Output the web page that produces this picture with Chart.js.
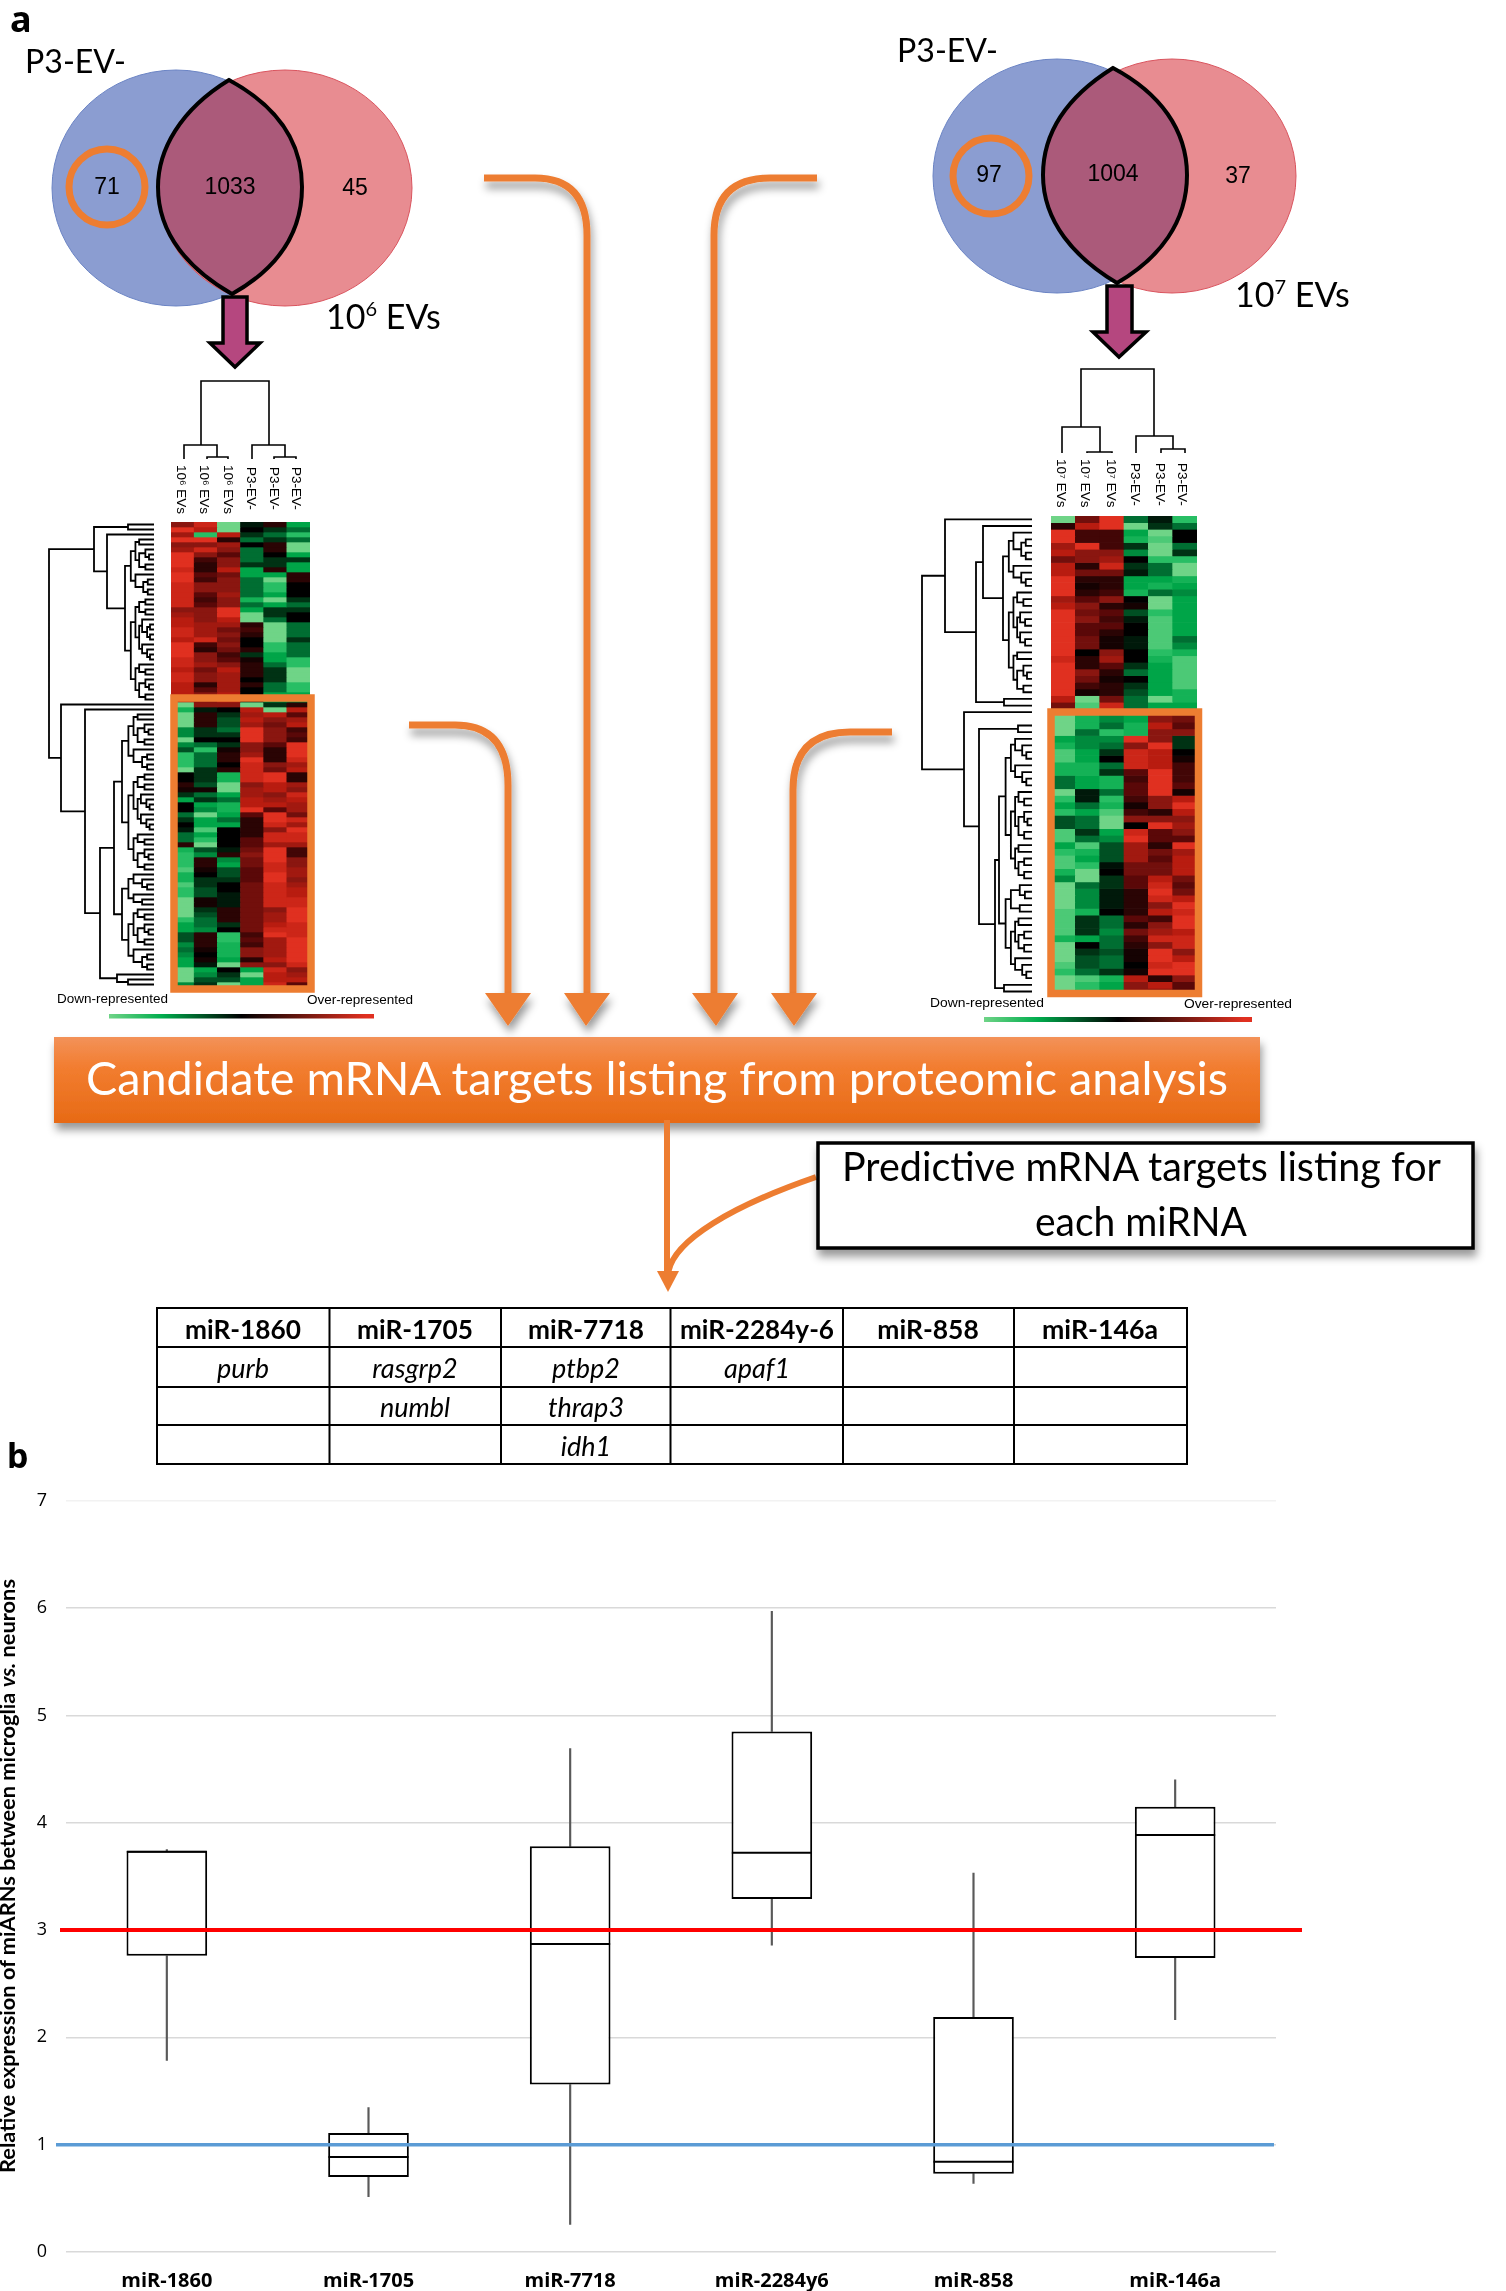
<!DOCTYPE html>
<html>
<head>
<meta charset="utf-8">
<title>miRNA targets and relative expression</title>
<script src="https://cdn.jsdelivr.net/npm/chart.js@4"></script>
<style>
  html, body { margin: 0; padding: 0; background: #fff; }
  #page { position: relative; width: 1506px; height: 2291px; overflow: hidden; }
  canvas { position: absolute; }
  #overlay { position: absolute; left: 0; top: 0; }
  #heatLeft { left: 171px; top: 522px; }
  #heatRight { left: 1051px; top: 516px; }
  #boxChart { left: 0; top: 1471px; }
</style>
</head>
<body>
<div id="page">
  <canvas id="boxChart" width="1506" height="820"></canvas>
  <canvas id="heatLeft" width="139" height="465"></canvas>
  <canvas id="heatRight" width="146" height="479"></canvas>

  <svg id="overlay" width="1506" height="2291" xmlns="http://www.w3.org/2000/svg">
    <defs>
      <filter id="sh" x="-10%" y="-30%" width="120%" height="170%">
        <feDropShadow dx="2" dy="7" stdDeviation="4" flood-color="#000" flood-opacity="0.4"/>
      </filter>
      <linearGradient id="bannerFill" x1="0" y1="0" x2="0" y2="1">
        <stop offset="0" stop-color="#f39259"/>
        <stop offset="0.35" stop-color="#f27d30"/>
        <stop offset="1" stop-color="#e76a15"/>
      </linearGradient>
      <linearGradient id="heatBar" x1="0" y1="0" x2="1" y2="0">
        <stop offset="0" stop-color="#6fd487"/>
        <stop offset="0.2" stop-color="#00ad4d"/>
        <stop offset="0.5" stop-color="#000"/>
        <stop offset="0.97" stop-color="#e03020"/>
      </linearGradient>
    </defs>

    <!-- panel letters -->
    <text x="10" y="32" font-family="Noto Sans" font-weight="700" font-size="36">a</text>
    <text x="7" y="1468" font-family="Noto Sans" font-weight="700" font-size="34">b</text>

    <!-- left venn -->
    <g>
      <ellipse cx="176" cy="188" rx="124" ry="118" fill="#8b9dd1" stroke="#6b84c4"/>
      <ellipse cx="285" cy="188" rx="127" ry="118" fill="#e88c91" stroke="#d9545e"/>
      <path d="M229,80 C180,110 158,150 158,187 C158,235 190,270 232,294 C275,270 302,235 302,187 C302,140 275,105 229,80 Z" fill="#ab5a7a" stroke="#000" stroke-width="4"/>
      <circle cx="107" cy="187" r="38" fill="none" stroke="#ed7d31" stroke-width="7"/>
      <g font-family="Liberation Sans" font-size="23" text-anchor="middle">
        <text x="107" y="194">71</text>
        <text x="230" y="194">1033</text>
        <text x="355" y="195">45</text>
      </g>
      <text x="25" y="73" font-family="Lato" font-size="33" textLength="101" lengthAdjust="spacingAndGlyphs">P3-EV-</text>
      <text x="326" y="329" font-family="Lato" font-size="34">10<tspan font-size="20" dy="-13">6</tspan><tspan dy="13"> EVs</tspan></text>
      <path d="M223,297 H247 V343 H260 L235,367 L210,343 H223 Z" fill="#b5477f" stroke="#000" stroke-width="3.5"/>
    </g>

    <!-- right venn -->
    <g>
      <ellipse cx="1057" cy="176" rx="124" ry="117" fill="#8b9dd1" stroke="#6b84c4"/>
      <ellipse cx="1172" cy="176" rx="124" ry="117" fill="#e88c91" stroke="#d9545e"/>
      <path d="M1113,68 C1065,98 1043,135 1043,175 C1043,222 1075,258 1117,283 C1160,258 1187,222 1187,175 C1187,130 1160,93 1113,68 Z" fill="#ab5a7a" stroke="#000" stroke-width="4"/>
      <circle cx="991" cy="176" r="38" fill="none" stroke="#ed7d31" stroke-width="7"/>
      <g font-family="Liberation Sans" font-size="23" text-anchor="middle">
        <text x="989" y="182">97</text>
        <text x="1113" y="181">1004</text>
        <text x="1238" y="183">37</text>
      </g>
      <text x="897" y="62" font-family="Lato" font-size="33" textLength="101" lengthAdjust="spacingAndGlyphs">P3-EV-</text>
      <text x="1235" y="307" font-family="Lato" font-size="34">10<tspan font-size="20" dy="-13">7</tspan><tspan dy="13"> EVs</tspan></text>
      <path d="M1107,286 H1132 V332 H1146 L1119,357 L1093,332 H1107 Z" fill="#b5477f" stroke="#000" stroke-width="3.5"/>
    </g>

    <!-- column dendrograms -->
    <g fill="none" stroke="#000" stroke-width="1.6">
      <path d="M201,445 V381 H269 V445"/>
      <path d="M184,459 V445 H217 V457 M207,459 V457 H228 V459"/>
      <path d="M252,459 V445 H285 V457 M274,459 V457 H296 V459"/>
      <path d="M1081,427 V369 H1154 V436"/>
      <path d="M1062,453 V427 H1100 V452 M1087,453 V452 H1112 V453"/>
      <path d="M1136,453 V436 H1173 V449 M1161,453 V449 H1185 V453"/>
    </g>
    <g id="colLabels" font-family="Liberation Sans" font-size="13.5"></g>

    <!-- row dendrograms, filled in by the script -->
    <path id="dendLeft" fill="none" stroke="#000" stroke-width="1.8"/>
    <path id="dendRight" fill="none" stroke="#000" stroke-width="1.8"/>

    <!-- selected clusters -->
    <rect x="174" y="698" width="137" height="291" fill="none" stroke="#ed7d31" stroke-width="7.5"/>
    <rect x="1051" y="712" width="147.5" height="281.5" fill="none" stroke="#ed7d31" stroke-width="7.5"/>

    <!-- colour keys -->
    <g font-family="Liberation Sans" font-size="12.5">
      <text x="57" y="1003" textLength="111" lengthAdjust="spacingAndGlyphs">Down-represented</text>
      <text x="307" y="1004" textLength="106" lengthAdjust="spacingAndGlyphs">Over-represented</text>
      <text x="930" y="1007" textLength="114" lengthAdjust="spacingAndGlyphs">Down-represented</text>
      <text x="1184" y="1008" textLength="108" lengthAdjust="spacingAndGlyphs">Over-represented</text>
    </g>
    <rect x="109" y="1014" width="265" height="4.5" fill="url(#heatBar)"/>
    <rect x="984" y="1017" width="268" height="5" fill="url(#heatBar)"/>

    <!-- orange routing arrows -->
    <g fill="none" stroke="#ed7d31" stroke-width="7" filter="url(#sh)">
      <path d="M484,178 H535 Q587,178 587,235 V995"/>
      <path d="M817,178 H770 Q714,178 714,235 V995"/>
      <path d="M409,725 H455 Q508,725 508,785 V995"/>
      <path d="M892,732 H850 Q793,732 793,790 V995"/>
    </g>
    <g fill="#ed7d31" filter="url(#sh)">
      <path d="M564,993 H610 L586,1026 Z"/>
      <path d="M692,993 H738 L716,1026 Z"/>
      <path d="M485,993 H531 L508,1026 Z"/>
      <path d="M771,993 H817 L794,1026 Z"/>
    </g>

    <!-- candidate banner -->
    <rect x="54" y="1037" width="1206" height="86" fill="url(#bannerFill)" filter="url(#sh)"/>
    <text x="86" y="1095" font-family="Lato" font-size="46" fill="#fff" textLength="1142" lengthAdjust="spacingAndGlyphs">Candidate mRNA targets listing from proteomic analysis</text>

    <!-- arrows to the table -->
    <path d="M667,1120 V1274" fill="none" stroke="#ed7d31" stroke-width="6"/>
    <path d="M816,1177 C735,1205 672,1240 668,1274" fill="none" stroke="#ed7d31" stroke-width="6"/>
    <path d="M657,1271 H679 L668,1292 Z" fill="#ed7d31"/>

    <!-- predictive box -->
    <rect x="818" y="1143" width="655" height="105" fill="#fff" stroke="#000" stroke-width="3.5" filter="url(#sh)"/>
    <g font-family="Lato" font-size="40">
      <text x="842" y="1181" textLength="599" lengthAdjust="spacingAndGlyphs">Predictive mRNA targets listing for</text>
      <text x="1035" y="1236" textLength="212" lengthAdjust="spacingAndGlyphs">each miRNA</text>
    </g>

    <!-- target table -->
    <g fill="none" stroke="#000" stroke-width="2">
      <rect x="157" y="1308" width="1030" height="156"/>
      <path d="M157,1347 H1187 M157,1387 H1187 M157,1425 H1187"/>
      <path d="M329.5,1308 V1464 M501,1308 V1464 M670.5,1308 V1464 M843,1308 V1464 M1014,1308 V1464"/>
    </g>
    <g id="tableText" font-family="Lato" font-size="27" text-anchor="middle"></g>

    <!-- y axis title -->
    <text transform="translate(15,2173) rotate(-90)" font-family="Lato" font-weight="700" font-size="21" textLength="594" lengthAdjust="spacingAndGlyphs">Relative expression of miARNs between microglia <tspan font-style="italic">vs.</tspan> neurons</text>
  </svg>
</div>

<script>
// panel b
var categories = ['miR-1860', 'miR-1705', 'miR-7718', 'miR-2284y6', 'miR-858', 'miR-146a'];
var whiskerLow = [1.785, 0.515, 0.257, 2.86, 0.64, 2.165];
var boxQ1 = [2.76, 0.70, 1.56, 3.29, 0.73, 2.74];
var boxMedian = [3.73, 0.885, 2.87, 3.72, 0.84, 3.885];
var boxQ3 = [3.74, 1.11, 3.78, 4.85, 2.19, 4.15];
var whiskerHigh = [3.75, 1.345, 4.69, 5.97, 3.53, 4.40];
var yTicks = [0, 1, 2, 3, 4, 5, 6, 7];
var thresholdValues = [3, 1];

// table in panel a
var tableHeaders = ['miR-1860', 'miR-1705', 'miR-7718', 'miR-2284y-6', 'miR-858', 'miR-146a'];
var tableRows = [
    ['purb', 'rasgrp2', 'ptbp2', 'apaf1', '', ''],
    ['', 'numbl', 'thrap3', '', '', ''],
    ['', '', 'idh1', '', '', '']
];

// heatmaps: one row per protein, columns are the samples (-5 light green .. 0 black .. 5 red)
var heatColumnsLeft = ['10⁶ EVs', '10⁶ EVs', '10⁶ EVs', 'P3-EV-', 'P3-EV-', 'P3-EV-'];
var heatColumnsRight = ['10⁷ EVs', '10⁷ EVs', '10⁷ EVs', 'P3-EV-', 'P3-EV-', 'P3-EV-'];
var heatRowsLeft = [
    [3,4.5,-5,-0.5,1,-3],[5,4,-5,0,-1,-2],[3.5,-4,4,-1,-2,-4],[5,5,1,-2,-1,-2],[3,3,3.5,0,1,-5],
    [3.5,4.5,3,-2,1,-5],[5,3,2,-2,0,-3],[5,1.5,3,-2,-1,-1],[5,1,3,-1,-1,-3],[4.5,1,4,-3,1,-3],
    [5,2,2.5,-3,-3,1],[5,1.5,3,-2,-5,1],[4.5,3,3,-2,-4,0],[4.5,3,3,-2,-4,0],[4.5,2,3.5,-2,-3,0],
    [4.5,1.5,3,-3.5,-5,-1],[4.5,2,3,-2,-3,-2],[3,3,5,-3,-1,-1],[3.5,3,5,-5,-1,0],[4,3,4,-5,-2,0],
    [4,3.5,3.5,1,-5,-2],[4.5,3.5,2.5,1.5,-5,-2],[4.5,3.5,3,1,-5,-2],[4,4.5,2.5,0,-5,-1],[5,1.5,3,0,-4,-2],
    [5,1,2.5,1,-4,-2],[5,3,1.5,-1,-3,-2],[4.5,3,2,0.5,-3,-4],[4.5,3.5,3,1,-2,-4],[4,2.5,4,1,-1,-5],
    [4.5,3,3.5,1,-1,-5],[4.5,3,3.5,0,-1,-5],[4,1,3.5,1,-2,-4],[4,2,3.5,0,-2,-4],[4,3,4,0,-3,-3],
    [4,3,4,0,-3,-3],[-5,3,3,-5,-1,1],[-3.5,-0.5,0,4,-5,4],[-5,1,-1,3.5,4,2],[-5,1,-1.5,4,3,3.5],
    [-5,1,-1.5,3.5,2.5,4],[-2.5,-1,-2,5,3,1.5],[-2.5,-1,-1,5,3,2],[-5,0,0,5,3,1.5],[-2.5,-2,-1,3,2,5],
    [-1.5,-4,0.5,3,1,5],[-4,-2,1,3.5,1,5],[-4,-2,1,5,1,4.5],[-4,-2,0,4.5,3,3.5],[-5,-1,1,4.5,2.5,4],
    [0,-1,-3.5,4.5,5,1],[0,-1,-3.5,4.5,5,1],[1,-1.5,-5,3,4,3.5],[0.5,0.5,-5,3.5,4,3],[-1,-2,-3,3.5,3,4.5],
    [-3,-1,-2,4,3.5,4],[0,-3,-3.5,4,4,3.5],[0,-2.5,-3.5,5,2,3.5],[-2,-5,-3,2,5,2.5],[-1,-3,-2,1,5,4.5],
    [0,-3,-3,1,4.5,3.5],[-0.5,-4.5,0,1,3,5],[-2,-3,0,1,4.5,4.5],[-2,-4,0,2,4.5,4.5],[1,-5,0,2,3.5,3.5],
    [-3.5,-1.5,-0.5,2.5,5,1.5],[-4,-2.5,1,3,5,1.5],[-4,1,-2.5,2.5,5,3],[-4,1,-3,2.5,4.5,3],[-4.5,0.5,-1.5,2,4.5,3.5],
    [-3.5,0,-1.5,2,5,3.5],[-3.5,-1,-1,2,5,3],[-4.5,-1,0,2.5,4.5,3.5],[-4,-1.5,0,2.5,4.5,4],[-4,-1.5,-0.5,2.5,4.5,4],
    [-5,0.5,-0.5,2.5,4.5,4.5],[-5,0.5,-0.5,2.5,4.5,4.5],[-5,-1,1,2.5,3,5],[-5,-1.5,1,2.5,3.5,5],[-4,-2,1,2.5,3.5,5],
    [-3,-2,-1,2.5,4,4.5],[-3,-2.5,0,2.5,4.5,4.5],[-1.5,1,-4,1.5,5,4.5],[-1.5,1,-4,2,3.5,5],[-2.5,1,-3.5,1.5,3.5,5],
    [-2,0.5,-3.5,3,3.5,5],[-2.5,0,-3.5,3,3.5,5],[-3,0.5,-3,1,4,5],[-3,-0.5,-5,3,3,4.5],[-5,-3,0,-3,4.5,3],
    [-5,-2.5,-1,-5,4,3.5],[-5,-1.5,-1.5,-3,4,4],[-2.5,-1,-5,-3,4.5,2]
];
var heatRowsRight = [
    [-5,2.5,5,-2,-0.5,-4],[1,4,5,-5,-1,-2],[5,1.5,1.5,-3,-5,0],[5,1.5,1.5,-3.5,-4.5,0],[3.5,5,1.5,-1,-5,-2],
    [4,3,3,-2.5,-5,-1],[2.5,3,3.5,0,-4,-4],[4,1,4.5,-1,-2,-5],[4,2.5,2.5,-0.5,-2,-5],[5,1,1,-3,-3,-3.5],
    [5,0.5,1,-3,-3.5,-3],[5,1,1.5,-3.5,-2,-2.5],[3.5,2,3,0,-5,-3],[4,3,1,0.5,-5,-3],[5,2.5,2,-1.5,-4,-3],
    [5,3,1.5,-0.5,-4.5,-3],[5,2,2,0,-4.5,-3],[5,2,1,0,-4.5,-3],[5,2.5,0.5,-0.5,-4.5,-2],[5,2.5,0.5,-0.5,-4.5,-2.5],
    [5,0,3,0,-4,-3.5],[4.5,1,3.5,0,-3.5,-4.5],[5,1,2,-1,-3,-4.5],[5,3,1,-2,-3,-4.5],[5,2.5,0.5,0,-3,-4.5],
    [5,1.5,1,-1,-3,-4.5],[5,0.5,1,-1.5,-3,-3.5],[4,-5,2.5,-2,-5,-3.5],[2.5,-4.5,4.5,-2,-3,-3],[-5,-3.5,-2.5,-3,3,2.5],
    [-5,-3.5,-2.5,-3,3,2.5],[-5,-3.5,-2,-3.5,4,2],[-5,-2,-4,-3.5,3,3],[-3,-2.5,-2.5,5,3,-1],[-3.5,-2.5,-2,3,5,-1],
    [-4.5,-3,-1,4.5,4,0],[-4.5,-3,0,4.5,4,0.5],[-3.5,-3.5,-2,4.5,4,1.5],[-3.5,-3.5,-1,2,5,1.5],[-2,-3,-3.5,1.5,5,1.5],
    [-2,-3,-3.5,2,5,2],[-5,-0.5,-2,2,5,0.5],[-4,-0.5,-4,1.5,3,4],[-3,-2,-3.5,0.5,3,5],[-4,-3,-4.5,1.5,1,4],
    [-1.5,-2,-5,3,3,3],[-1.5,-2,-5,0,5,3.5],[-4.5,-1,-3,4.5,2,3],[-4.5,-2,-2.5,5,2,2],[-3,-4.5,-1.5,3.5,1,5],
    [-4,-3.5,-1.5,3.5,2.5,3.5],[-4.5,-3,-1.5,3.5,2,4],[-4.5,-4,-0.3,2.5,2.5,4],[-3.5,-5,0,2.5,2.5,4],[-2.5,-5,-1,2,4,2.5],
    [-5,-2,-1,2,4.5,2],[-5,-2.5,-0.5,1,5,2.5],[-5,-2.5,-0.5,1,4.5,4],[-5,-2.5,-0.5,1,3,5],[-4.5,-3.5,0,1,4,4.5],
    [-4.5,-1,-2,2,1.5,5],[-4.5,-1,-2,1,3,5],[-4.5,-1,-2.5,2.5,3.5,4],[-3.5,-3,-2,1.5,4.5,4.5],[-5,0,-2,1,3,4.5],
    [-5,-1,-1.5,0.5,5,3],[-5,-1.5,-2,0.5,5,4],[-4.5,-1.5,-2,0,4.5,5],[-4,-2,-1,0.5,5,5],[-5,-4.5,-3.5,4,1,3],
    [-5,-4,-3,3,4,2],[-5,-4,-3,3,3,2]
];

// colour stops for the heat scale, index 0 is -5 and index 10 is +5
var heatStops = [
    [111, 212, 135], [40, 190, 100], [0, 165, 72], [0, 110, 50], [0, 50, 20], [0, 0, 0],
    [42, 4, 4], [90, 8, 8], [138, 22, 16], [184, 28, 16], [224, 48, 32]
];

function heatColor(v) {
    var p = Math.min(9.999, v + 5);
    var i = Math.floor(p);
    var t = p - i;
    var c = [0, 1, 2].map(function (k) {
        return Math.round(heatStops[i][k] + (heatStops[i + 1][k] - heatStops[i][k]) * t);
    });
    return 'rgb(' + c.join(',') + ')';
}

function drawHeatmap(id, columns, rows) {
    // one stacked dataset per row, each bar segment is one cell
    var datasets = rows.map(function (row) {
        return {
            data: row.map(function () { return 1; }),
            backgroundColor: row.map(heatColor),
            borderWidth: 0,
            barPercentage: 1,
            categoryPercentage: 1
        };
    });
    new Chart(document.getElementById(id), {
        type: 'bar',
        data: { labels: columns, datasets: datasets },
        options: {
            responsive: false,
            animation: false,
            layout: { padding: 0 },
            plugins: { legend: { display: false }, tooltip: { enabled: false } },
            scales: {
                x: { stacked: true, display: false },
                y: { stacked: true, display: false, reverse: true, min: 0, max: rows.length }
            }
        }
    });
}

drawHeatmap('heatLeft', heatColumnsLeft, heatRowsLeft);
drawHeatmap('heatRight', heatColumnsRight, heatRowsRight);

// threshold lines run a little past the plot area, like in the figure
var thresholdPlugin = {
    id: 'thresholds',
    afterDatasetsDraw: function (chart) {
        var y = chart.scales.y;
        var spans = [[60, 1302, '#ff0000', 4], [56, 1274, '#5b9bd5', 3.5]];
        var ctx = chart.ctx;
        ctx.save();
        thresholdValues.forEach(function (v, i) {
            ctx.strokeStyle = spans[i][2];
            ctx.lineWidth = spans[i][3];
            ctx.beginPath();
            ctx.moveTo(spans[i][0], y.getPixelForValue(v));
            ctx.lineTo(spans[i][1], y.getPixelForValue(v));
            ctx.stroke();
        });
        ctx.restore();
    }
};

function zip(a, b) {
    return a.map(function (v, i) { return [v, b[i]]; });
}

new Chart(document.getElementById('boxChart'), {
    type: 'bar',
    data: {
        labels: categories,
        datasets: [
            {
                type: 'line',
                data: boxMedian,
                showLine: false,
                pointStyle: 'line',
                pointRadius: 40,
                pointBorderWidth: 2,
                pointBorderColor: '#000',
                order: 1
            },
            {
                data: zip(boxQ1, boxQ3),
                grouped: false,
                backgroundColor: '#fff',
                borderColor: '#000',
                borderWidth: 2,
                borderSkipped: false,
                barPercentage: 0.4,
                categoryPercentage: 1,
                order: 2
            },
            {
                data: zip(whiskerLow, boxQ1),
                grouped: false,
                backgroundColor: '#595959',
                barThickness: 1.5,
                order: 3
            },
            {
                data: zip(boxQ3, whiskerHigh),
                grouped: false,
                backgroundColor: '#595959',
                barThickness: 1.5,
                order: 3
            }
        ]
    },
    options: {
        responsive: false,
        animation: false,
        // the median dashes have a large radius, keep them from padding the plot area
        layout: { autoPadding: false, padding: { top: 11, right: 230, left: 0, bottom: 0 } },
        plugins: { legend: { display: false }, tooltip: { enabled: false } },
        scales: {
            x: {
                grid: { display: false },
                border: { display: false },
                afterFit: function (scale) { scale.height = 39; },
                ticks: {
                    color: '#000',
                    padding: 9,
                    font: { family: 'Open Sans', size: 20, weight: '700' }
                }
            },
            y: {
                min: 0,
                max: 7,
                afterFit: function (scale) { scale.width = 66; },
                afterBuildTicks: function (scale) {
                    scale.ticks = yTicks.map(function (v) { return { value: v }; });
                },
                border: { display: false },
                grid: {
                    drawTicks: false,
                    lineWidth: 1.5,
                    color: function (c) { return c.tick.value === 7 ? '#f2f2f2' : '#d9d9d9'; }
                },
                ticks: {
                    color: '#000',
                    padding: 19,
                    font: { family: 'Open Sans', size: 18 }
                }
            }
        }
    },
    plugins: [thresholdPlugin]
});

// row dendrograms: the upper merges are as in the figure, the small ones near the leaves are sketched
function sketch(x, a, b, xEnd, depth) {
    if (a === b) return a;
    var n = b - a + 1;
    var m = a + Math.max(0, Math.floor(n * (depth % 2 ? 0.62 : 0.38)) - 1);
    var nx = x + (xEnd - x) * (n > 5 ? 0.2 : 0.42);
    return [x, sketch(nx, a, m, xEnd, depth + 1), sketch(nx, m + 1, b, xEnd, depth + 1)];
}

function dendrogramPath(tree, rowY, xEnd) {
    var d = '';
    function walk(node) {
        if (typeof node === 'number') return rowY(node);
        var y1 = walk(node[1]);
        var y2 = walk(node[2]);
        var x1 = typeof node[1] === 'number' ? xEnd : node[1][0];
        var x2 = typeof node[2] === 'number' ? xEnd : node[2][0];
        d += 'M' + x1 + ',' + y1 + 'H' + node[0] + 'V' + y2 + 'H' + x2;
        return (y1 + y2) / 2;
    }
    walk(tree);
    return d;
}

var leftEnd = 154;
var leftTree = [49,
    [94, [128, 0, 1], [107, 2, sketch(125, 3, 35, leftEnd, 0)]],
    [61, 36, [85, 37, [100, sketch(114, 38, 89, leftEnd, 1), [117, 90, sketch(128, 91, 92, leftEnd, 0)]]]]
];
document.getElementById('dendLeft').setAttribute('d', dendrogramPath(leftTree, function (r) {
    return 522 + 5 * (r + 0.5);
}, leftEnd));

var rightEnd = 1032;
var rightTree = [922,
    [945, 0, [976, [983, 1, sketch(1003, 2, 26, rightEnd, 0)], [1004, 27, 28]]],
    [964, 29, [979, [1018, 31, 32], [995, sketch(999, 33, 69, rightEnd, 1), [1004, 70, 71]]]]
];
document.getElementById('dendRight').setAttribute('d', dendrogramPath(rightTree, function (r) {
    return 516 + 6.65 * (r + 0.5);
}, rightEnd));

// svg text for the sample labels and the table
var NS = 'http://www.w3.org/2000/svg';

function addText(parent, str, x, y, attrs) {
    var t = document.createElementNS(NS, 'text');
    t.setAttribute('x', x);
    t.setAttribute('y', y);
    for (var k in attrs) t.setAttribute(k, attrs[k]);
    t.textContent = str;
    parent.appendChild(t);
}

var colLabels = document.getElementById('colLabels');
[177, 200, 224, 247, 270, 292].forEach(function (x, i) {
    var y = i < 3 ? 465 : 467;
    addText(colLabels, heatColumnsLeft[i], x, y, { transform: 'rotate(90 ' + x + ' ' + y + ')' });
});
[1057, 1081, 1107, 1131, 1156, 1178].forEach(function (x, i) {
    var y = i < 3 ? 459 : 463;
    addText(colLabels, heatColumnsRight[i], x, y, { transform: 'rotate(90 ' + x + ' ' + y + ')' });
});

var tableText = document.getElementById('tableText');
var colCenters = [243, 415, 586, 757, 928, 1100];
tableHeaders.forEach(function (h, i) {
    addText(tableText, h, colCenters[i], 1339, {
        'font-weight': '700',
        textLength: h.length > 8 ? 154 : (h.length * 14.5),
        lengthAdjust: 'spacingAndGlyphs'
    });
});
tableRows.forEach(function (row, r) {
    row.forEach(function (v, i) {
        if (v) addText(tableText, v, colCenters[i], [1378, 1417, 1456][r], { 'font-style': 'italic' });
    });
});
</script>
</body>
</html>
